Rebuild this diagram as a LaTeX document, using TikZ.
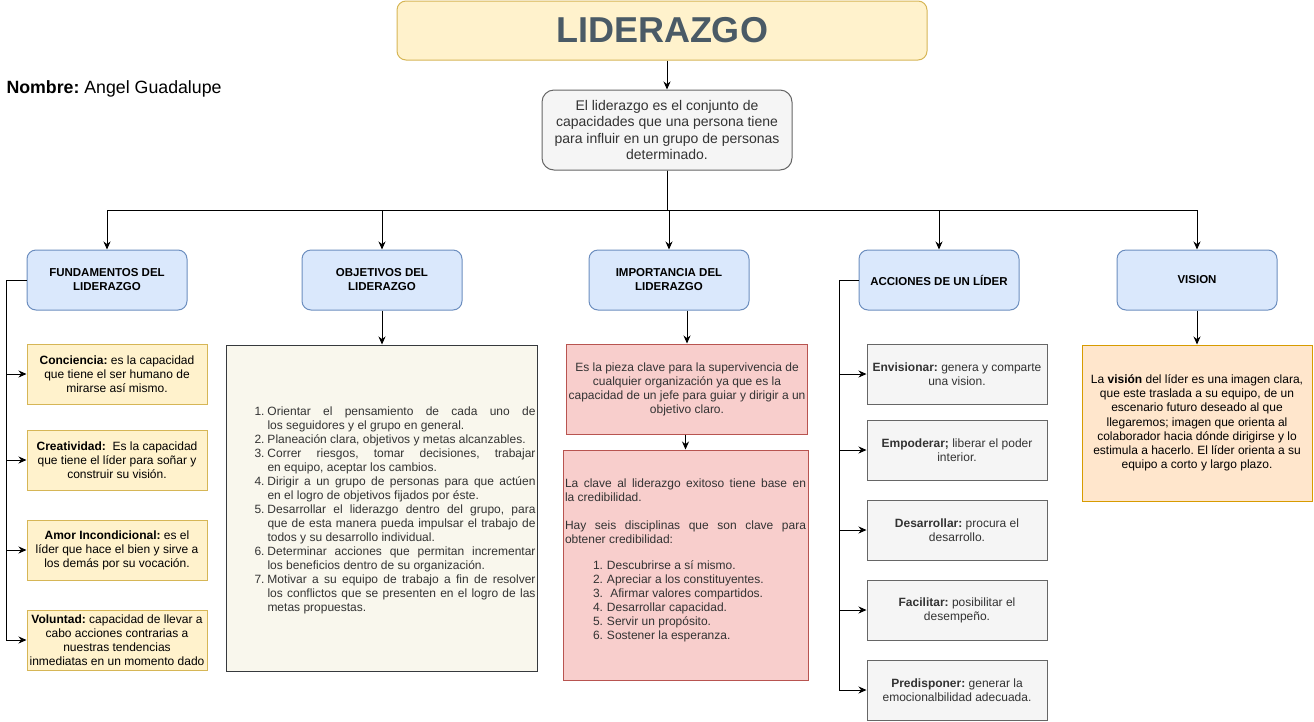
\documentclass[tikz,border=0pt]{standalone}
\usepackage{fontspec}
\setmainfont{Liberation Sans}
\usepackage{tikz}
\usetikzlibrary{arrows.meta,positioning}
\frenchspacing

\definecolor{headfill}{HTML}{DAE8FC}
\definecolor{headline}{HTML}{6C8EBF}
\definecolor{notefill}{HTML}{FFF2CC}
\definecolor{noteline}{HTML}{D6B656}
\definecolor{greyfill}{HTML}{F5F5F5}
\definecolor{greyline}{HTML}{666666}
\definecolor{redfill}{HTML}{F8CECC}
\definecolor{redline}{HTML}{B85450}
\definecolor{orgfill}{HTML}{FFE6CC}
\definecolor{orgline}{HTML}{D79B00}
\definecolor{listfill}{HTML}{F9F7ED}
\definecolor{listline}{HTML}{36393D}
\definecolor{titletext}{HTML}{4A5A66}
\definecolor{softtext}{HTML}{333333}

% numbered line with hanging indent
\newcommand{\litem}[3]{\par\hangindent=#1\hangafter=1\noindent\hbox to #1{#2.\hfil}#3}

\begin{document}
\begin{tikzpicture}[x=1pt, y=-1pt, line width=1pt, >={Stealth[length=8pt,width=7pt]}]
\tikzstyle{box} = [line width=1pt, inner sep=2pt, align=center, font=\fontsize{12}{14}\selectfont]
\tikzstyle{head} = [box, draw=headline, fill=headfill, rounded corners=9pt, minimum width=160pt, minimum height=60pt, font=\bfseries\fontsize{11.5}{14}\selectfont]
\tikzstyle{note} = [box, draw=noteline, fill=notefill, minimum width=180pt, minimum height=60pt]
\tikzstyle{grey} = [box, draw=greyline, fill=greyfill, text=softtext, minimum width=180pt, minimum height=60pt]
\useasboundingbox (0,0) rectangle (1314,721);

\node[box, draw=noteline, fill=notefill, rounded corners=9pt, minimum width=530pt, minimum height=59pt, text=titletext, font=\bfseries\fontsize{36}{40}\selectfont] (title) at (662,30.5) {LIDERAZGO};
\node[anchor=west, inner sep=0pt, font=\fontsize{17.75}{20}\selectfont] (name) at (6,89) {\textbf{Nombre:} Angel Guadalupe};
\node[box, draw=greyline, fill=greyfill, text=softtext, rounded corners=12pt, minimum width=250pt, minimum height=80pt, font=\fontsize{14}{16.3}\selectfont] (def) at (667,130) {El liderazgo es el conjunto de\\capacidades que una persona tiene\\para influir en un grupo de personas\\determinado.};

% cabeceras
\node[head] (fund) at (107,280) {FUNDAMENTOS DEL\\LIDERAZGO};
\node[head] (obj) at (382,280) {OBJETIVOS DEL\\LIDERAZGO};
\node[head] (imp) at (669,280) {IMPORTANCIA DEL\\LIDERAZGO};
\node[head] (acc) at (939,280) {ACCIONES DE UN LÍDER};
\node[head] (vis) at (1197,280) {VISION};

% fundamentos
\node[note] (conc) at (117,374) {\textbf{Conciencia:} es la capacidad\\que tiene el ser humano de\\mirarse así mismo.};
\node[note] (crea) at (117,460) {\textbf{Creatividad:}\ \ Es la capacidad\\que tiene el líder para soñar y\\construir su visión.};
\node[note] (amor) at (117,550) {\textbf{Amor Incondicional:} es el\\líder que hace el bien y sirve a\\los demás por su vocación.};
\node[note] (vol) at (117,640) {\textbf{Voluntad:} capacidad de llevar a\\cabo acciones contrarias a\\nuestras tendencias\\inmediatas en un momento dado};

% objetivos
\node[box, draw=listline, fill=listfill, text=softtext, align=justify, text width=307pt, minimum width=311pt, minimum height=326pt, below=34pt of obj] (objl) {\hbadness=10000 \emergencystretch=2em \leftskip=26pt
\litem{13pt}{1}{Orientar el pensamiento de cada uno de\linebreak los seguidores y el grupo en general.}
\litem{13pt}{2}{Planeación clara, objetivos y metas alcanzables.}
\litem{13pt}{3}{Correr riesgos, tomar decisiones, trabajar\linebreak en equipo, aceptar los cambios.}
\litem{13pt}{4}{Dirigir a un grupo de personas para que actúen\linebreak en el logro de objetivos fijados por éste.}
\litem{13pt}{5}{Desarrollar el liderazgo dentro del grupo, para\linebreak que de esta manera pueda impulsar el trabajo de\linebreak todos y su desarrollo individual.}
\litem{13pt}{6}{Determinar acciones que permitan incrementar\linebreak los beneficios dentro de su organización.}
\litem{13pt}{7}{Motivar a su equipo de trabajo a fin de resolver\linebreak los conflictos que se presenten en el logro de las\linebreak metas propuestas.}\par};

% importancia
\node[box, draw=redline, fill=redfill, text=softtext, minimum width=240pt, minimum height=90pt] (imp1) at (687,389) {Es la pieza clave para la supervivencia de\\cualquier organización ya que es la\\capacidad de un jefe para guiar y dirigir a un\\objetivo claro.};
\node[box, draw=redline, fill=redfill, text=softtext, align=justify, text width=241pt, minimum width=245pt, minimum height=230pt] (imp2) at (685.5,565) {\hbadness=10000 \emergencystretch=2em
La clave al liderazgo exitoso tiene base en\linebreak la credibilidad.\par\vspace{14pt}
Hay seis disciplinas que son clave para\linebreak obtener credibilidad:\par\vspace{12pt}
\leftskip=28pt
\litem{14pt}{1}{Descubrirse a sí mismo.}
\litem{14pt}{2}{Apreciar a los constituyentes.}
\litem{14pt}{3}{\ Afirmar valores compartidos.}
\litem{14pt}{4}{Desarrollar capacidad.}
\litem{14pt}{5}{Servir un propósito.}
\litem{14pt}{6}{Sostener la esperanza.}\par\vspace{10pt}};

% acciones
\node[grey] (env) at (957,374) {\textbf{Envisionar:} genera y comparte\\una vision.};
\node[grey] (emp) at (957,450) {\textbf{Empoderar;} liberar el poder\\interior.};
\node[grey] (des) at (957,530) {\textbf{Desarrollar:} procura el\\desarrollo.};
\node[grey] (fac) at (957,610) {\textbf{Facilitar:} posibilitar el\\desempeño.};
\node[grey] (pre) at (957,690) {\textbf{Predisponer:} generar la\\emocionalbilidad adecuada.};

% vision
\node[box, draw=orgline, fill=orgfill, minimum width=230pt, minimum height=156pt, font=\fontsize{12}{14.2}\selectfont, below=34pt of vis] (vtext) {La \textbf{visión} del líder es una imagen clara,\\que este traslada a su equipo, de un\\escenario futuro deseado al que\\llegaremos; imagen que orienta al\\colaborador hacia dónde dirigirse y lo\\estimula a hacerlo. El líder orienta a su\\equipo a corto y largo plazo.};

% conectores
\draw[->] (title.south -| def.north) -- (def.north);
\foreach \h in {fund,obj,imp,acc,vis}
\draw[->] (def.south) -- ++(0,40) -| (\h.north);
\foreach \b in {conc,crea,amor,vol}
\draw[->] (fund.west) -- ++(-20,0) |- (\b.west);
\foreach \b in {env,emp,des,fac,pre}
\draw[->] (acc.west) -- ++(-19,0) |- (\b.west);
\draw[->] (obj) -- (objl);
\draw[->] (imp.south -| imp1.north) -- (imp1.north);
\draw[->] (imp1.south -| imp2.north) -- (imp2.north);
\draw[->] (vis) -- (vtext);
\end{tikzpicture}
\end{document}
